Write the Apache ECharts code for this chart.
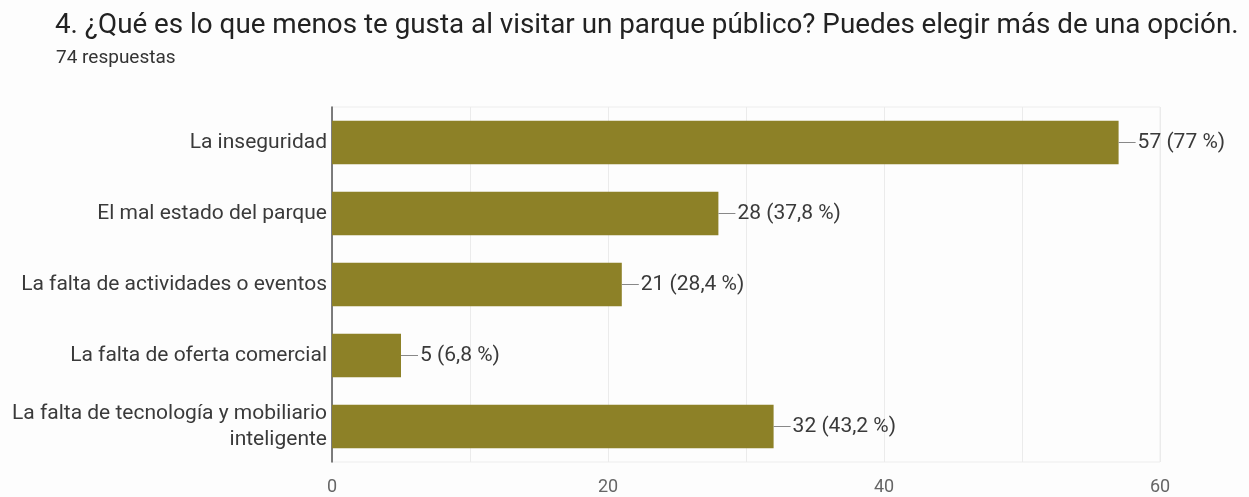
<!DOCTYPE html>
<html>
<head>
<meta charset="utf-8">
<script src="https://cdn.jsdelivr.net/npm/echarts@6/dist/echarts.min.js"></script>
<style>
  html, body { margin: 0; padding: 0; background: #fdfdfd; }
  #chart { width: 1249px; height: 497px; }
</style>
</head>
<body>
<div id="chart"></div>
<script>
const titleText = '4. ¿Qué es lo que menos te gusta al visitar un parque público? Puedes elegir más de una opción.';
const subtitleText = '74 respuestas';
const categories = [
  'La inseguridad',
  'El mal estado del parque',
  'La falta de actividades o eventos',
  'La falta de oferta comercial',
  'La falta de tecnología y mobiliario\ninteligente'
];
const counts = [57, 28, 21, 5, 32];
const percents = ['77', '37,8', '28,4', '6,8', '43,2'];
const tickLabels = ['0', '20', '40', '60'];

const chart = echarts.init(document.getElementById('chart'), null, { renderer: 'canvas' });

chart.setOption({
  backgroundColor: '#fdfdfd',
  textStyle: { fontFamily: 'Roboto' },
  title: [
    {
      text: titleText,
      left: 55, top: 12, padding: 0,
      textStyle: { fontFamily: 'Roboto', fontSize: 27.8, fontWeight: 'normal', color: '#222' }
    },
    {
      text: subtitleText,
      left: 56, top: 49, padding: 0,
      textStyle: { fontFamily: 'Roboto', fontSize: 19, fontWeight: 'normal', color: '#333' }
    }
  ],
  grid: {
    left: 332, right: 89, top: 107, bottom: 35,
    show: true, borderColor: '#ededed', borderWidth: 1
  },
  xAxis: {
    type: 'value',
    min: 0, max: 60, interval: 10,
    axisLine: { show: false },
    axisTick: { show: false },
    splitLine: { lineStyle: { color: '#ebebeb', width: 1 } },
    axisLabel: {
      margin: 16,
      fontSize: 18,
      color: '#666',
      formatter: v => (tickLabels.indexOf(String(v)) >= 0 ? String(v) : '')
    }
  },
  yAxis: {
    type: 'category',
    inverse: true,
    data: categories,
    axisLine: { show: true, lineStyle: { color: '#555', width: 1.5 } },
    axisTick: { show: false },
    axisLabel: { margin: 5, fontSize: 21, color: '#3a3a3a', lineHeight: 26, align: 'right' }
  },
  series: [{
    type: 'bar',
    data: counts,
    barCategoryGap: '39%',
    itemStyle: { color: '#8d8127' },
    label: {
      show: true,
      position: 'right',
      distance: 0,
      formatter: p => '{ln|}{t|' + counts[p.dataIndex] + ' (' + percents[p.dataIndex] + ' %)}',
      rich: {
        ln: { width: 17, height: 1, backgroundColor: '#888' },
        t: { fontSize: 21, color: '#3a3a3a', padding: [0, 0, 0, 2] }
      }
    }
  }]
});
</script>
</body>
</html>
